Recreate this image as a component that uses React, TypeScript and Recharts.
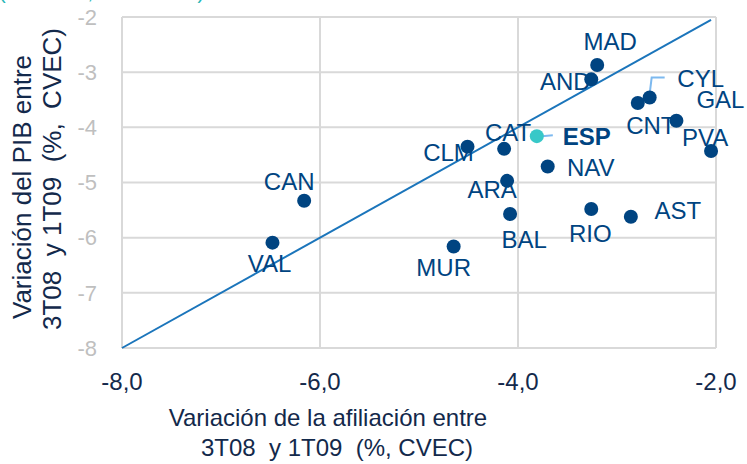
import { ScatterChart, Scatter, XAxis, YAxis, CartesianGrid } from "recharts";

const REGIONES = ["MAD", "AND", "CYL", "CNT", "GAL", "PVA", "ESP", "CAT", "CLM", "NAV", "ARA", "BAL", "RIO", "AST", "MUR", "CAN", "VAL"];
// variación de la afiliación 3T08-1T09 (%, CVEC)
const AFILIACION = [-3.2, -3.26, -2.67, -2.79, -2.4, -2.05, -3.81, -4.14, -4.51, -3.7, -4.11, -4.08, -3.26, -2.86, -4.65, -6.16, -6.48];
// variación del PIB 3T08-1T09 (%, CVEC)
const PIB = [-2.87, -3.13, -3.46, -3.56, -3.88, -4.43, -4.16, -4.39, -4.35, -4.71, -4.97, -5.57, -5.48, -5.62, -6.16, -5.33, -6.09];

const DIAGONAL = [-8, -2.05];
const X_TICKS = [-8, -6, -4, -2];
const Y_TICKS = [-8, -7, -6, -5, -4, -3, -2];

const FONT = "'Liberation Sans', Arial, sans-serif";
const NAVY = "#13294b";
const DOT = "#004481";
const TEAL = "#38c8c8";
const NB = "\u00a0";

// label offsets (px) from the dot centre
const LABEL_POS: Record<string, [number, number]> = {
  MAD: [13, -24],
  AND: [-26, 2],
  CYL: [51, -19],
  CNT: [13, 22],
  GAL: [44, -21],
  PVA: [-6, -14],
  ESP: [50, 0],
  CAT: [4, -16],
  CLM: [-19, 6],
  NAV: [43, 1],
  ARA: [-15, 9],
  BAL: [14, 26],
  RIO: [-1, 24],
  AST: [47, -6],
  MUR: [-10, 21],
  CAN: [-15, -19],
  VAL: [-3, 21],
};

const points = REGIONES.map((name, i) => ({ name, x: AFILIACION[i], y: PIB[i] }));
const regionPoints = points.filter((p) => p.name !== "ESP");
const espPoint = points.filter((p) => p.name === "ESP");
const diagonal = DIAGONAL.map((v) => ({ x: v, y: v }));

function PointShape(props: any) {
  const { cx, cy, payload } = props;
  const name = payload.name as string;
  const [dx, dy] = LABEL_POS[name] || [0, -20];
  const isEsp = name === "ESP";
  return (
    <g>
      {name === "CYL" && (
        <polyline
          points={`${cx},${cy - 4} ${cx + 2},${cy - 20} ${cx + 15},${cy - 20}`}
          fill="none"
          stroke="#7db9ef"
          strokeWidth={2}
        />
      )}
      {isEsp && (
        <line x1={cx + 5} y1={cy} x2={cx + 16} y2={cy - 1} stroke="#7db9ef" strokeWidth={2} />
      )}
      <circle cx={cx} cy={cy} r={7} fill={isEsp ? TEAL : DOT} />
      <text
        x={cx + dx}
        y={cy + dy}
        dy="0.355em"
        textAnchor="middle"
        fontFamily={FONT}
        fontSize={24}
        fontWeight={isEsp ? "bold" : "normal"}
        fill={DOT}
      >
        {name}
      </text>
    </g>
  );
}

function XTick(props: any) {
  const { x, y, payload } = props;
  return (
    <text x={x} y={y + 25} dy="0.355em" textAnchor="middle" fontFamily={FONT} fontSize={24} fill={NAVY}>
      {payload.value.toFixed(1).replace(".", ",")}
    </text>
  );
}

function YTick(props: any) {
  const { x, y, payload } = props;
  return (
    <text x={x - 17} y={y} dy="0.355em" textAnchor="end" fontFamily={FONT} fontSize={22} fill="#bfbfbf">
      {payload.value}
    </text>
  );
}

function XTitle(props: any) {
  const { viewBox } = props;
  const cx = viewBox.x + viewBox.width / 2;
  return (
    <g fontFamily={FONT} fontSize={24} fill={NAVY}>
      <text x={cx - 91} y={417} dy="0.355em" textAnchor="middle">
        Variación de la afiliación entre
      </text>
      <text x={cx - 82} y={447} dy="0.355em" textAnchor="middle">
        {`3T08 ${NB}y 1T09 ${NB}(%, CVEC)`}
      </text>
    </g>
  );
}

function YTitle() {
  return (
    <g fontFamily={FONT} fontSize={26} fill={NAVY}>
      <text x={22} y={187} dy="0.355em" textAnchor="middle" transform="rotate(-90 22 187)">
        Variación del PIB entre
      </text>
      <text x={52} y={179} dy="0.355em" textAnchor="middle" transform="rotate(-90 52 179)">
        {`3T08 ${NB}y 1T09 ${NB}(%, ${NB}CVEC)`}
      </text>
    </g>
  );
}

export default function App() {
  return (
    <div style={{ position: "absolute", left: 0, top: 0, width: 747, height: 464, background: "#fff" }}>
      <svg width={747} height={10} style={{ position: "absolute", left: 0, top: 0 }}>
        <text x={-1} y={-1} fontFamily={FONT} fontSize={20} fill="#29b6b6">
          (Variación, total CCAA)
        </text>
      </svg>
      <ScatterChart width={747} height={464} margin={{ top: 17, right: 31, bottom: 16, left: 0 }}>
        <CartesianGrid stroke="#d9d9d9" strokeWidth={2} />
        <XAxis
          type="number"
          dataKey="x"
          domain={[-8, -2]}
          ticks={X_TICKS}
          axisLine={false}
          tickLine={false}
          height={100}
          tick={<XTick />}
          label={{ content: <XTitle /> }}
        />
        <YAxis
          type="number"
          dataKey="y"
          domain={[-8, -2]}
          ticks={Y_TICKS}
          axisLine={false}
          tickLine={false}
          width={122}
          tick={<YTick />}
          label={{ content: <YTitle /> }}
        />
        <Scatter
          data={diagonal}
          line={{ stroke: "#1b75bb", strokeWidth: 2 }}
          shape={() => <g />}
          isAnimationActive={false}
        />
        <Scatter data={regionPoints} shape={<PointShape />} isAnimationActive={false} />
        <Scatter data={espPoint} shape={<PointShape />} isAnimationActive={false} />
      </ScatterChart>
    </div>
  );
}
